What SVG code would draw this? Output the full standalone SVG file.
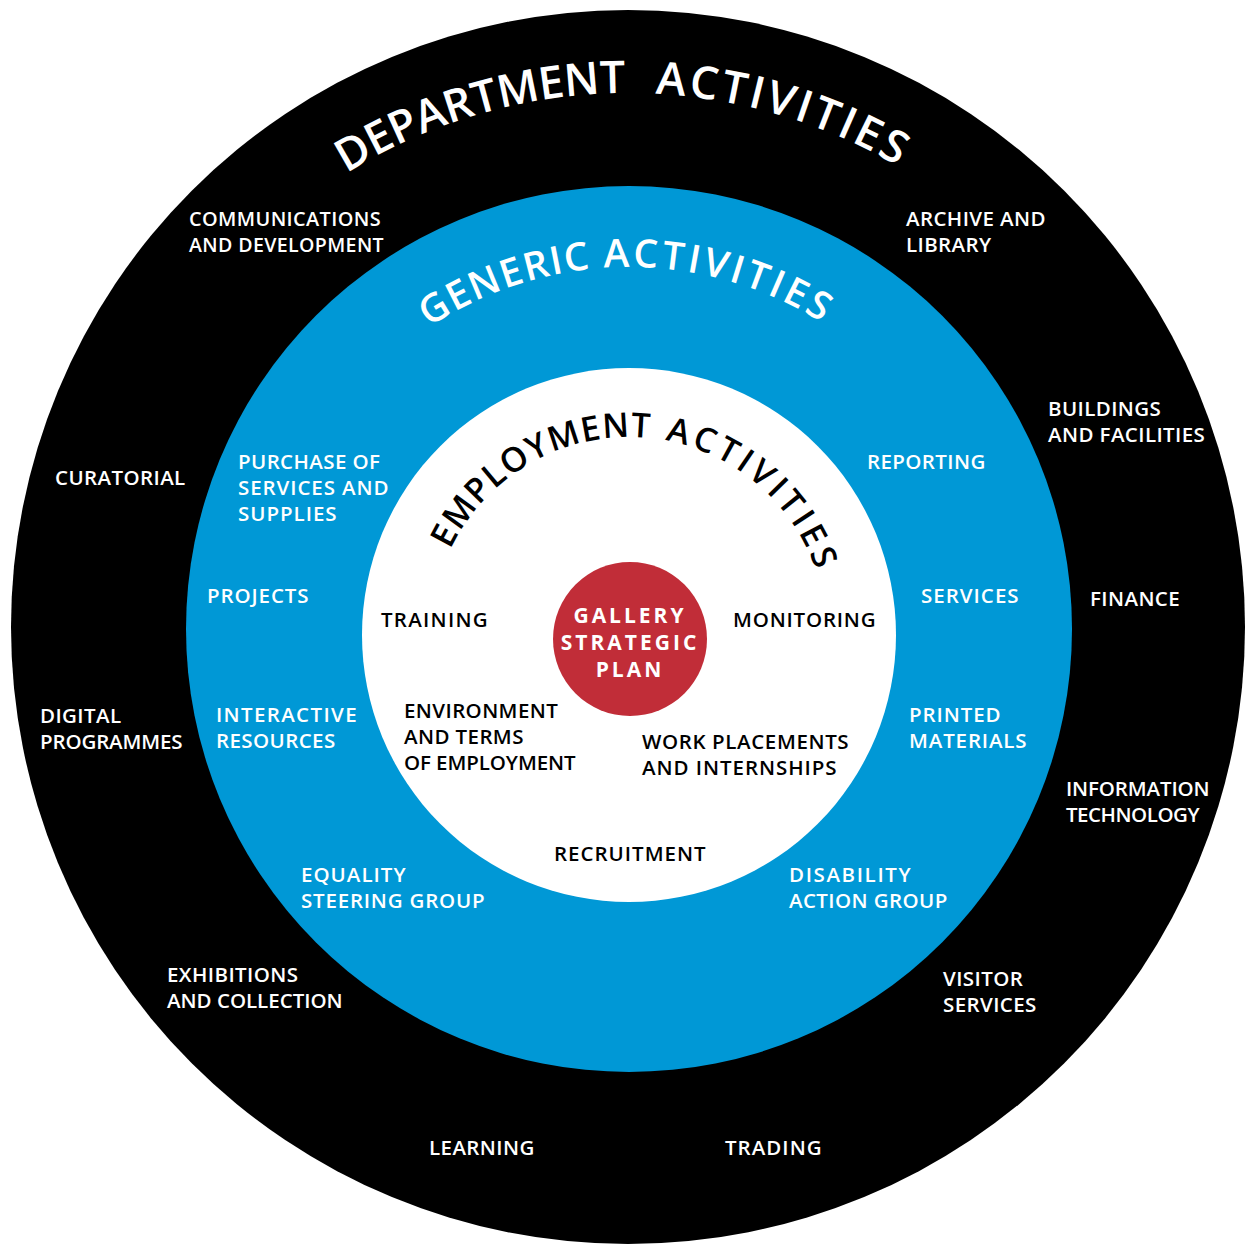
<svg xmlns="http://www.w3.org/2000/svg" xmlns:xlink="http://www.w3.org/1999/xlink" width="1246" height="1244" viewBox="0 0 1246 1244">
<style>
text{font-family:"Open Sans","Noto Sans","Liberation Sans",sans-serif;font-weight:600}
.lbl{font-size:20.5px;letter-spacing:0.4px}
.w{fill:#ffffff}
.k{fill:#000000}
.dept{font-size:45px;fill:#ffffff}
.gen{font-size:39px;fill:#ffffff}
.emp{font-size:34px;fill:#000000}
.core{font-size:21px;font-weight:700;letter-spacing:3px;fill:#ffffff;text-anchor:middle}
</style>
<defs>
<path id="arcDept" d="M 94,627 A 534,534 0 0 1 1162,627"/>
<path id="arcGen" d="M 267,629 A 362,362 0 0 1 991,629"/>
<path id="arcEmp" d="M 431,635 A 198,198 0 0 1 827,635"/>
</defs>
<rect width="1246" height="1244" fill="#ffffff"/>
<g id="ring-department">
<circle cx="628" cy="627" r="617" fill="#000000"/>
<text class="dept" letter-spacing="-0.3"><textPath xlink:href="#arcDept" href="#arcDept" startOffset="836" text-anchor="end">DEPARTMENT</textPath></text>
<text class="dept" letter-spacing="3"><textPath xlink:href="#arcDept" href="#arcDept" startOffset="866" text-anchor="start">ACTIVITIES</textPath></text>
</g>
<g id="ring-generic">
<circle cx="629" cy="629" r="443" fill="#0098d6"/>
<text class="gen" letter-spacing="1.5"><textPath xlink:href="#arcGen" href="#arcGen" startOffset="531" text-anchor="end">GENERIC</textPath></text>
<text class="gen" letter-spacing="3.4"><textPath xlink:href="#arcGen" href="#arcGen" startOffset="543" text-anchor="start">ACTIVITIES</textPath></text>
</g>
<g id="ring-employment">
<circle cx="629" cy="635" r="267" fill="#ffffff"/>
<text class="emp" letter-spacing="1.2"><textPath xlink:href="#arcEmp" href="#arcEmp" startOffset="333" text-anchor="end">EMPLOYMENT</textPath></text>
<text class="emp" letter-spacing="4"><textPath xlink:href="#arcEmp" href="#arcEmp" startOffset="347" text-anchor="start">ACTIVITIES</textPath></text>
</g>
<g id="core">
<circle cx="630" cy="639" r="77" fill="#c12d38"/>
<text class="core" x="630" y="623">GALLERY</text>
<text class="core" x="630" y="650">STRATEGIC</text>
<text class="core" x="630" y="677">PLAN</text>
</g>
<g id="department-nodes">
<g id="n-communications"><text class="lbl w" x="189" y="226" textLength="192" lengthAdjust="spacingAndGlyphs">COMMUNICATIONS</text><text class="lbl w" x="189" y="252" textLength="195" lengthAdjust="spacingAndGlyphs">AND DEVELOPMENT</text></g>
<g id="n-archive"><text class="lbl w" x="906" y="226">ARCHIVE AND</text><text class="lbl w" x="906" y="252">LIBRARY</text></g>
<g id="n-buildings"><text class="lbl w" x="1048" y="416">BUILDINGS</text><text class="lbl w" x="1048" y="442">AND FACILITIES</text></g>
<g id="n-curatorial"><text class="lbl w" x="55" y="485">CURATORIAL</text></g>
<g id="n-finance"><text class="lbl w" x="1090" y="606">FINANCE</text></g>
<g id="n-digital"><text class="lbl w" x="40" y="723">DIGITAL</text><text class="lbl w" x="40" y="749" textLength="143">PROGRAMMES</text></g>
<g id="n-it"><text class="lbl w" x="1066" y="796" textLength="144">INFORMATION</text><text class="lbl w" x="1066" y="822" textLength="134">TECHNOLOGY</text></g>
<g id="n-exhibitions"><text class="lbl w" x="167" y="982">EXHIBITIONS</text><text class="lbl w" x="167" y="1008" textLength="176">AND COLLECTION</text></g>
<g id="n-visitor"><text class="lbl w" x="943" y="986">VISITOR</text><text class="lbl w" x="943" y="1012">SERVICES</text></g>
<g id="n-learning"><text class="lbl w" x="429" y="1155">LEARNING</text></g>
<g id="n-trading"><text class="lbl w" x="725" y="1155" textLength="97">TRADING</text></g>
</g>
<g id="generic-nodes">
<g id="n-purchase"><text class="lbl w" x="238" y="469">PURCHASE OF</text><text class="lbl w" x="238" y="495" textLength="151">SERVICES AND</text><text class="lbl w" x="238" y="521" textLength="99">SUPPLIES</text></g>
<g id="n-reporting"><text class="lbl w" x="867" y="469">REPORTING</text></g>
<g id="n-projects"><text class="lbl w" x="207" y="603" textLength="102">PROJECTS</text></g>
<g id="n-services"><text class="lbl w" x="921" y="603" textLength="98">SERVICES</text></g>
<g id="n-interactive"><text class="lbl w" x="216" y="722" textLength="141">INTERACTIVE</text><text class="lbl w" x="216" y="748">RESOURCES</text></g>
<g id="n-printed"><text class="lbl w" x="909" y="722" textLength="92">PRINTED</text><text class="lbl w" x="909" y="748" textLength="118">MATERIALS</text></g>
<g id="n-equality"><text class="lbl w" x="301" y="882" textLength="105">EQUALITY</text><text class="lbl w" x="301" y="908" textLength="184">STEERING GROUP</text></g>
<g id="n-disability"><text class="lbl w" x="789" y="882" textLength="122">DISABILITY</text><text class="lbl w" x="789" y="908">ACTION GROUP</text></g>
</g>
<g id="employment-nodes">
<g id="n-training"><text class="lbl k" x="381" y="627" textLength="107">TRAINING</text></g>
<g id="n-monitoring"><text class="lbl k" x="733" y="627" textLength="143">MONITORING</text></g>
<g id="n-environment"><text class="lbl k" x="404" y="718">ENVIRONMENT</text><text class="lbl k" x="404" y="744">AND TERMS</text><text class="lbl k" x="404" y="770" textLength="172">OF EMPLOYMENT</text></g>
<g id="n-work"><text class="lbl k" x="642" y="749" textLength="207">WORK PLACEMENTS</text><text class="lbl k" x="642" y="775" textLength="195">AND INTERNSHIPS</text></g>
<g id="n-recruitment"><text class="lbl k" x="554" y="861" textLength="152">RECRUITMENT</text></g>
</g>
<g id="connectors"/>
</svg>
